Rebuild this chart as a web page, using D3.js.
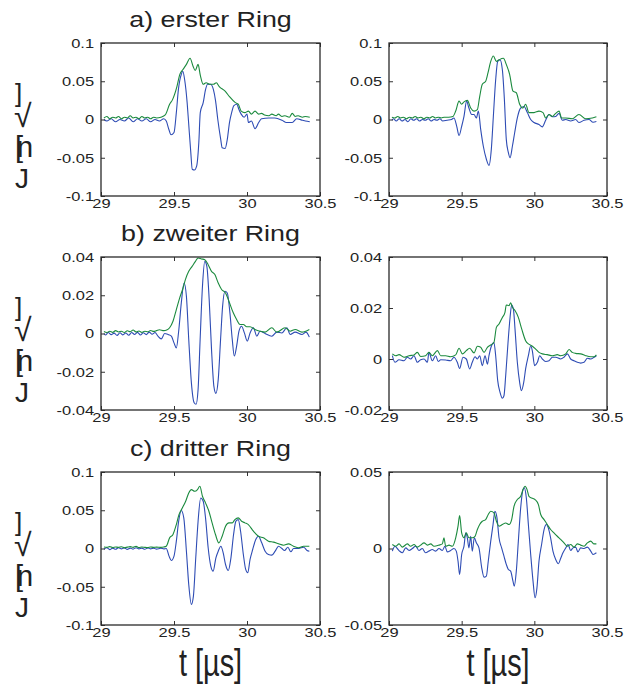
<!DOCTYPE html>
<html>
<head>
<meta charset="utf-8">
<script src="https://cdn.jsdelivr.net/npm/d3@7"></script>
<style>
  body { margin: 0; background: #fff; }
  svg { display: block; }
  text { font-family: "Liberation Sans", Arial, Helvetica, sans-serif; fill: #222; }
</style>
</head>
<body>
<svg id="chart" width="634" height="684"></svg>
<script>
// values, t in microseconds
var xTicks = [29, 29.5, 30, 30.5];
var yTicksA = [-0.1, -0.05, 0, 0.05, 0.1];
var yTicksB = [-0.04, -0.02, 0, 0.02, 0.04];
var yTicksC = [-0.02, 0, 0.02, 0.04];
var yTicksD = [-0.05, 0, 0.05];
var titles = ["a) erster Ring", "b) zweiter Ring", "c) dritter Ring"];
var xLabel = "t [\u00b5s]";
var yLabelGlyphs = ["]", "\u221a", "[n", "J"];

// a) erster Ring, left
var p1Blue = [[29.02,0.0],[29.04,-0.002],[29.07,0.001],[29.1,-0.003],[29.13,0.0],[29.16,-0.002],[29.19,0.002],[29.22,-0.003],[29.25,0.001],[29.28,-0.002],[29.31,0.001],[29.34,-0.003],[29.37,0.0],[29.4,-0.002],[29.43,0.001],[29.447,-0.002],[29.465,-0.013],[29.48,-0.02],[29.5,-0.017],[29.516,0.009],[29.53,0.039],[29.55,0.059],[29.56,0.063],[29.573,0.052],[29.59,0.022],[29.6,-0.004],[29.615,-0.043],[29.625,-0.065],[29.64,-0.066],[29.655,-0.061],[29.67,-0.03],[29.68,0.009],[29.7,0.022],[29.716,0.039],[29.73,0.046],[29.75,0.046],[29.77,0.039],[29.785,0.024],[29.8,0.0],[29.82,-0.026],[29.83,-0.037],[29.85,-0.038],[29.865,-0.026],[29.88,-0.004],[29.895,0.009],[29.91,0.018],[29.93,0.02],[29.945,0.013],[29.96,0.007],[29.98,0.003],[30.0,0.007],[30.01,-0.004],[30.03,-0.002],[30.055,-0.012],[30.08,-0.004],[30.1,0.001],[30.15,0.002],[30.19,0.002],[30.24,-0.001],[30.27,-0.004],[30.31,-0.004],[30.34,0.001],[30.38,-0.001],[30.4,-0.002],[30.43,-0.003]];
var p1Green = [[29.02,0.002],[29.04,0.004],[29.06,0.001],[29.08,0.003],[29.1,0.002],[29.12,0.004],[29.14,0.001],[29.16,0.003],[29.18,0.002],[29.2,0.005],[29.22,0.002],[29.24,0.003],[29.26,0.001],[29.28,0.004],[29.3,0.002],[29.32,0.003],[29.34,0.001],[29.36,0.003],[29.38,0.002],[29.41,0.003],[29.44,0.006],[29.47,0.02],[29.49,0.026],[29.52,0.043],[29.54,0.059],[29.56,0.065],[29.585,0.072],[29.61,0.08],[29.63,0.07],[29.645,0.064],[29.665,0.072],[29.68,0.058],[29.7,0.046],[29.72,0.048],[29.745,0.046],[29.77,0.046],[29.79,0.048],[29.81,0.043],[29.85,0.037],[29.88,0.03],[29.92,0.022],[29.94,0.02],[29.96,0.011],[29.985,0.009],[30.01,0.011],[30.03,0.007],[30.055,0.011],[30.08,0.007],[30.1,0.008],[30.12,0.006],[30.15,0.005],[30.17,0.007],[30.2,0.005],[30.215,0.007],[30.24,0.004],[30.26,0.005],[30.29,0.003],[30.31,0.008],[30.33,0.004],[30.35,0.005],[30.38,0.003],[30.4,0.004],[30.43,0.003]];

// a) erster Ring, right
var p2Blue = [[29.02,-0.001],[29.03,0.001],[29.05,-0.002],[29.07,0.001],[29.09,-0.002],[29.11,0.0],[29.13,-0.003],[29.15,0.001],[29.17,-0.001],[29.19,0.001],[29.21,-0.002],[29.23,0.0],[29.25,-0.001],[29.27,0.001],[29.29,-0.002],[29.31,0.0],[29.33,-0.001],[29.35,0.001],[29.37,-0.002],[29.4,-0.001],[29.43,0.0],[29.447,0.002],[29.466,-0.009],[29.482,-0.021],[29.5,-0.009],[29.516,0.004],[29.534,0.024],[29.55,0.015],[29.569,0.0065],[29.585,0.0065],[29.601,0.002],[29.615,0.011],[29.631,-0.013],[29.649,-0.035],[29.67,-0.052],[29.688,-0.06],[29.704,-0.039],[29.718,0.004],[29.734,0.052],[29.748,0.076],[29.764,0.078],[29.78,0.065],[29.794,0.026],[29.807,-0.026],[29.821,-0.043],[29.833,-0.05],[29.849,-0.035],[29.865,-0.017],[29.883,0.002],[29.906,0.015],[29.929,0.017],[29.952,0.009],[29.975,0.0],[29.998,-0.004],[30.032,-0.0065],[30.055,-0.0096],[30.078,-0.001],[30.101,0.0065],[30.124,0.0035],[30.147,0.004],[30.17,0.008],[30.193,-0.001],[30.216,0.0],[30.25,-0.002],[30.284,0.0],[30.307,-0.004],[30.342,-0.001],[30.376,0.0],[30.404,-0.0035],[30.427,-0.0026]];
var p2Green = [[29.02,0.003],[29.04,0.002],[29.06,0.004],[29.08,0.002],[29.1,0.003],[29.12,0.001],[29.14,0.003],[29.16,0.002],[29.18,0.004],[29.2,0.002],[29.22,0.003],[29.24,0.001],[29.26,0.003],[29.28,0.002],[29.3,0.004],[29.32,0.002],[29.34,0.003],[29.36,0.002],[29.38,0.003],[29.41,0.003],[29.44,0.004],[29.459,0.011],[29.482,0.024],[29.5,0.02],[29.516,0.023],[29.539,0.025],[29.562,0.015],[29.585,0.011],[29.608,0.013],[29.624,0.03],[29.642,0.046],[29.665,0.05],[29.681,0.061],[29.7,0.076],[29.718,0.083],[29.739,0.076],[29.757,0.078],[29.787,0.08],[29.807,0.072],[29.83,0.059],[29.853,0.037],[29.876,0.035],[29.899,0.02],[29.922,0.015],[29.94,0.02],[29.963,0.009],[29.998,0.009],[30.032,0.011],[30.06,0.009],[30.078,0.002],[30.101,0.0065],[30.124,0.004],[30.147,0.008],[30.17,0.011],[30.188,0.002],[30.216,0.002],[30.261,0.001],[30.307,0.0065],[30.353,0.001],[30.399,0.002],[30.427,0.0035]];

// b) zweiter Ring, left
var p3Blue = [[29.02,0.0],[29.03,-0.0008],[29.05,0.0005],[29.07,-0.0006],[29.09,0.0002],[29.11,-0.001],[29.13,0.0004],[29.15,-0.0007],[29.17,0.0003],[29.19,-0.0009],[29.21,0.0005],[29.23,-0.0005],[29.25,0.0006],[29.27,-0.0008],[29.29,0.0004],[29.31,-0.0006],[29.33,0.0007],[29.35,-0.0004],[29.37,0.0005],[29.39,-0.0014],[29.413,-0.0028],[29.436,0.0],[29.459,-0.0005],[29.482,-0.0014],[29.5,-0.0049],[29.516,-0.0075],[29.532,0.0012],[29.55,0.016],[29.569,0.0264],[29.585,0.0195],[29.601,-0.0031],[29.619,-0.0257],[29.638,-0.0362],[29.651,-0.037],[29.665,-0.0292],[29.679,-0.0031],[29.695,0.0247],[29.711,0.0377],[29.725,0.0351],[29.741,0.0177],[29.757,-0.0083],[29.773,-0.0275],[29.787,-0.0313],[29.803,-0.024],[29.819,-0.0031],[29.833,0.0143],[29.849,0.0221],[29.865,0.0212],[29.883,0.0108],[29.899,-0.0031],[29.913,-0.0118],[29.929,-0.0066],[29.945,0.0012],[29.963,0.0038],[29.982,0.0003],[30.002,-0.004],[30.021,0.0003],[30.044,0.003],[30.067,-0.0014],[30.089,0.0012],[30.124,0.0],[30.17,-0.0014],[30.204,0.0007],[30.239,0.0003],[30.273,0.003],[30.296,-0.0005],[30.33,0.0007],[30.376,-0.0005],[30.404,0.0007],[30.427,-0.0019]];
var p3Green = [[29.02,0.001],[29.04,0.0005],[29.06,0.0012],[29.08,0.0006],[29.1,0.0015],[29.12,0.0008],[29.14,0.0012],[29.16,0.0005],[29.18,0.0014],[29.2,0.0009],[29.22,0.0018],[29.24,0.0008],[29.26,0.0013],[29.28,0.0006],[29.3,0.0012],[29.32,0.0009],[29.34,0.0016],[29.36,0.0011],[29.38,0.0015],[29.4,0.002],[29.43,0.0015],[29.45,0.0018],[29.47,0.003],[29.493,0.0064],[29.516,0.0125],[29.539,0.0186],[29.562,0.0238],[29.578,0.0282],[29.601,0.0325],[29.624,0.0351],[29.647,0.0377],[29.665,0.0395],[29.688,0.039],[29.711,0.0386],[29.734,0.036],[29.757,0.0325],[29.78,0.0308],[29.803,0.0264],[29.826,0.023],[29.853,0.0212],[29.876,0.0169],[29.906,0.0108],[29.929,0.0073],[29.952,0.0047],[29.975,0.0047],[29.998,0.0035],[30.021,0.0035],[30.055,0.0021],[30.089,0.0012],[30.124,0.0007],[30.17,0.003],[30.204,0.0007],[30.261,0.003],[30.296,0.0012],[30.33,0.0021],[30.376,0.0007],[30.427,0.0021]];

// b) zweiter Ring, right
var p4Blue = [[29.023,0.0013],[29.041,-0.0013],[29.069,-0.0003],[29.103,-0.0007],[29.126,0.0007],[29.149,0.0],[29.172,0.0013],[29.195,-0.0013],[29.218,-0.0003],[29.241,0.0],[29.264,-0.0013],[29.275,0.0026],[29.298,-0.0007],[29.321,0.0013],[29.339,-0.001],[29.356,-0.0003],[29.39,-0.0004],[29.424,-0.0007],[29.447,0.0007],[29.47,-0.0013],[29.486,-0.0037],[29.509,0.0007],[29.532,0.0],[29.555,-0.0039],[29.573,-0.0013],[29.592,0.0009],[29.608,0.0],[29.624,0.0013],[29.642,-0.0026],[29.661,0.0013],[29.677,-0.002],[29.688,0.0013],[29.704,0.005],[29.722,0.0065],[29.734,0.0013],[29.748,-0.0085],[29.764,-0.0131],[29.78,-0.0154],[29.791,-0.0144],[29.803,-0.0065],[29.819,0.0065],[29.833,0.0163],[29.844,0.0212],[29.856,0.0196],[29.867,0.0118],[29.883,-0.0013],[29.899,-0.0092],[29.911,-0.0124],[29.927,-0.0092],[29.94,-0.0039],[29.959,0.0013],[29.975,0.0052],[29.986,0.0033],[30.002,-0.0026],[30.021,-0.0013],[30.037,0.0013],[30.055,0.0],[30.078,-0.001],[30.101,-0.0007],[30.124,0.0007],[30.147,0.0007],[30.181,0.0],[30.204,0.0007],[30.227,0.002],[30.25,0.0],[30.273,-0.0007],[30.296,-0.0013],[30.319,-0.0016],[30.342,-0.0013],[30.365,0.0003],[30.388,0.0],[30.411,0.0007],[30.427,0.0013]];
var p4Green = [[29.023,0.002],[29.046,0.0013],[29.069,0.0017],[29.103,0.0007],[29.138,0.0013],[29.172,0.0016],[29.195,0.0026],[29.218,0.001],[29.252,0.0013],[29.275,0.0026],[29.298,0.0013],[29.333,0.0033],[29.356,0.0013],[29.39,0.0013],[29.424,0.0009],[29.459,0.0016],[29.482,0.0042],[29.505,0.002],[29.532,0.0033],[29.555,0.0042],[29.585,0.0024],[29.608,0.005],[29.631,0.0046],[29.654,0.0026],[29.677,0.0046],[29.7,0.0055],[29.722,0.0065],[29.739,0.0124],[29.757,0.0137],[29.78,0.0163],[29.798,0.0183],[29.807,0.0212],[29.826,0.0209],[29.837,0.022],[29.849,0.0203],[29.867,0.019],[29.89,0.0163],[29.913,0.0118],[29.94,0.0072],[29.959,0.0059],[29.982,0.0052],[30.009,0.0039],[30.032,0.0026],[30.055,0.002],[30.089,0.0017],[30.124,0.0013],[30.158,0.0017],[30.181,0.0013],[30.216,0.002],[30.239,0.0037],[30.261,0.0026],[30.284,0.0022],[30.319,0.002],[30.353,0.0013],[30.388,0.0009],[30.411,0.0009],[30.427,0.0016]];

// c) dritter Ring, left
var p5Blue = [[29.02,-0.001],[29.04,0.001],[29.06,-0.0015],[29.08,0.0005],[29.1,-0.001],[29.12,0.001],[29.14,-0.0005],[29.16,0.0008],[29.18,-0.0012],[29.2,0.0005],[29.22,-0.0008],[29.24,0.001],[29.26,-0.0005],[29.28,0.0005],[29.3,-0.001],[29.32,0.0008],[29.34,-0.0005],[29.36,0.0005],[29.38,-0.0008],[29.41,0.0003],[29.43,-0.0005],[29.447,0.0],[29.466,-0.01],[29.482,-0.0157],[29.5,-0.01],[29.516,0.0096],[29.532,0.0357],[29.55,0.0496],[29.567,0.04],[29.585,-0.0035],[29.601,-0.047],[29.619,-0.073],[29.633,-0.0622],[29.649,-0.0122],[29.665,0.0357],[29.683,0.0661],[29.7,0.0617],[29.716,0.04],[29.734,0.0009],[29.752,-0.023],[29.768,-0.0296],[29.787,-0.0122],[29.803,-0.0035],[29.821,0.003],[29.837,-0.0057],[29.853,-0.0209],[29.872,-0.0287],[29.89,-0.0122],[29.908,0.0183],[29.924,0.0357],[29.94,0.0378],[29.956,0.0226],[29.975,-0.0078],[29.991,-0.0274],[30.005,-0.0317],[30.021,-0.0143],[30.039,-0.0013],[30.06,0.0117],[30.078,0.0161],[30.101,0.0074],[30.124,-0.0035],[30.147,-0.0078],[30.17,-0.0087],[30.193,-0.0035],[30.216,0.003],[30.239,0.0],[30.257,-0.0026],[30.28,0.0017],[30.3,-0.0043],[30.319,0.0],[30.353,0.0],[30.388,0.0017],[30.411,-0.0026],[30.427,-0.0035]];
var p5Green = [[29.02,0.002],[29.04,0.0015],[29.06,0.0025],[29.08,0.0012],[29.1,0.002],[29.12,0.0015],[29.14,0.0022],[29.16,0.001],[29.18,0.0018],[29.2,0.0025],[29.22,0.0015],[29.24,0.0028],[29.26,0.0012],[29.28,0.002],[29.3,0.0015],[29.32,0.0012],[29.34,0.002],[29.36,0.0015],[29.38,0.0018],[29.41,0.0015],[29.43,0.002],[29.447,0.003],[29.47,0.0139],[29.493,0.0183],[29.516,0.0313],[29.534,0.0443],[29.557,0.053],[29.58,0.0617],[29.601,0.0726],[29.619,0.077],[29.642,0.0748],[29.661,0.077],[29.677,0.0813],[29.695,0.0683],[29.716,0.0596],[29.739,0.0487],[29.761,0.0335],[29.784,0.0183],[29.807,0.0074],[29.83,0.0161],[29.853,0.0291],[29.876,0.0335],[29.899,0.0335],[29.917,0.0378],[29.94,0.04],[29.963,0.0357],[29.986,0.0335],[30.009,0.0313],[30.044,0.0226],[30.078,0.0161],[30.112,0.0139],[30.147,0.0096],[30.181,0.0083],[30.216,0.0061],[30.25,0.0043],[30.284,0.0061],[30.319,0.003],[30.353,0.0009],[30.388,0.003],[30.427,0.003]];

// c) dritter Ring, right
var p6Blue = [[29.023,-0.0017],[29.041,0.0015],[29.057,0.0],[29.073,-0.0017],[29.092,-0.0028],[29.115,0.0004],[29.138,-0.0013],[29.161,0.0],[29.183,0.0015],[29.206,-0.0013],[29.229,0.0],[29.252,-0.0028],[29.275,-0.0017],[29.298,-0.0007],[29.321,-0.0017],[29.344,0.0],[29.367,-0.0013],[29.385,0.0015],[29.401,-0.0022],[29.424,-0.0013],[29.447,0.0],[29.463,-0.0017],[29.475,-0.0083],[29.486,-0.017],[29.5,-0.0039],[29.516,0.0015],[29.528,0.0102],[29.539,0.007],[29.55,0.0004],[29.562,0.008],[29.573,-0.0017],[29.587,0.007],[29.601,0.0037],[29.619,0.0004],[29.638,-0.0126],[29.654,-0.0187],[29.67,-0.018],[29.683,-0.0083],[29.7,0.0048],[29.716,0.0157],[29.729,0.0243],[29.743,0.02],[29.757,0.007],[29.775,0.0004],[29.791,-0.005],[29.807,-0.0104],[29.821,-0.0137],[29.837,-0.0148],[29.853,-0.0213],[29.862,-0.0246],[29.876,-0.0148],[29.89,0.0048],[29.906,0.0265],[29.922,0.0385],[29.931,0.0396],[29.945,0.033],[29.959,0.0157],[29.975,-0.0039],[29.991,-0.0213],[30.005,-0.0322],[30.018,-0.0257],[30.032,-0.0083],[30.05,0.0026],[30.067,0.0124],[30.083,0.0157],[30.096,0.0135],[30.112,0.007],[30.128,-0.0017],[30.147,-0.0072],[30.165,-0.01],[30.181,-0.0065],[30.197,-0.0028],[30.216,0.0004],[30.232,0.0026],[30.25,-0.0013],[30.266,0.0004],[30.284,0.0009],[30.3,-0.0022],[30.319,0.0004],[30.342,0.0],[30.365,0.0009],[30.388,-0.0017],[30.404,-0.0039],[30.427,-0.0028]];
var p6Green = [[29.023,0.0026],[29.046,0.0015],[29.069,0.003],[29.092,0.0009],[29.126,0.003],[29.149,0.0015],[29.172,0.0026],[29.195,0.0009],[29.218,0.0022],[29.241,0.0037],[29.264,0.0022],[29.287,0.003],[29.31,0.0015],[29.344,0.0022],[29.367,0.003],[29.378,0.007],[29.39,0.0015],[29.413,0.0022],[29.436,0.0015],[29.459,0.007],[29.475,0.0146],[29.486,0.0215],[29.5,0.0102],[29.516,0.007],[29.532,0.0102],[29.55,0.007],[29.573,0.007],[29.592,0.008],[29.608,0.0124],[29.624,0.0157],[29.642,0.0178],[29.665,0.0189],[29.683,0.0222],[29.7,0.0243],[29.722,0.0233],[29.739,0.0178],[29.757,0.0146],[29.78,0.0157],[29.803,0.0167],[29.826,0.0157],[29.844,0.0189],[29.86,0.0276],[29.883,0.032],[29.906,0.0341],[29.922,0.0385],[29.936,0.0407],[29.95,0.0385],[29.963,0.0341],[29.982,0.033],[30.005,0.032],[30.028,0.0287],[30.044,0.0222],[30.067,0.0189],[30.089,0.0157],[30.112,0.0124],[30.135,0.0102],[30.158,0.008],[30.181,0.0059],[30.204,0.0037],[30.227,0.0015],[30.25,0.0026],[30.273,0.0009],[30.296,0.003],[30.319,0.0022],[30.342,0.0015],[30.365,0.0037],[30.388,0.0048],[30.411,0.003],[30.427,0.003]];

var blueColor = "#2e4cb4";
var greenColor = "#1b8a3e";

var svg = d3.select("#chart");
svg.append("rect").attr("width", 634).attr("height", 684).attr("fill", "#fff");

var cols = [{x0: 101, x1: 320}, {x0: 389, x1: 607}];
var rows = [{y0: 43, y1: 196}, {y0: 257, y1: 410}, {y0: 472, y1: 625}];

var panels = [
    {col: 0, row: 0, domain: [-0.1, 0.1], ticks: yTicksA, blue: p1Blue, green: p1Green},
    {col: 1, row: 0, domain: [-0.1, 0.1], ticks: yTicksA, blue: p2Blue, green: p2Green},
    {col: 0, row: 1, domain: [-0.04, 0.04], ticks: yTicksB, blue: p3Blue, green: p3Green},
    {col: 1, row: 1, domain: [-0.02, 0.04], ticks: yTicksC, blue: p4Blue, green: p4Green},
    {col: 0, row: 2, domain: [-0.1, 0.1], ticks: yTicksA, blue: p5Blue, green: p5Green},
    {col: 1, row: 2, domain: [-0.05, 0.05], ticks: yTicksD, blue: p6Blue, green: p6Green}
];

var tickFmt = function(d) { return String(d); };
var textStretch = "scale(1.22,1)";

panels.forEach(function(p) {
    var c = cols[p.col], r = rows[p.row];
    var x = d3.scaleLinear().domain([29, 30.5]).range([c.x0, c.x1]);
    var y = d3.scaleLinear().domain(p.domain).range([r.y1, r.y0]);
    var g = svg.append("g");

    var line = d3.line()
        .x(function(d) { return x(d[0]); })
        .y(function(d) { return y(d[1]); })
        .curve(d3.curveMonotoneX);

    var clipId = "clip" + p.col + p.row;
    g.append("clipPath").attr("id", clipId)
        .append("rect").attr("x", c.x0).attr("y", r.y0)
        .attr("width", c.x1 - c.x0).attr("height", r.y1 - r.y0);

    g.append("path").datum(p.blue)
        .attr("d", line).attr("clip-path", "url(#" + clipId + ")")
        .style("fill", "none").style("stroke", blueColor).style("stroke-width", 1.1);
    g.append("path").datum(p.green)
        .attr("d", line).attr("clip-path", "url(#" + clipId + ")")
        .style("fill", "none").style("stroke", greenColor).style("stroke-width", 1.1);

    // axes with inward ticks on all four sides
    var bottom = g.append("g").attr("transform", "translate(0," + r.y1 + ")")
        .call(d3.axisBottom(x).tickValues(xTicks).tickFormat(tickFmt).tickSize(-4).tickPadding(2.5));
    var top = g.append("g").attr("transform", "translate(0," + r.y0 + ")")
        .call(d3.axisTop(x).tickValues(xTicks).tickFormat("").tickSize(-4));
    var left = g.append("g").attr("transform", "translate(" + c.x0 + ",0)")
        .call(d3.axisLeft(y).tickValues(p.ticks).tickFormat(tickFmt).tickSize(-4).tickPadding(5.7));
    var right = g.append("g").attr("transform", "translate(" + c.x1 + ",0)")
        .call(d3.axisRight(y).tickValues(p.ticks).tickFormat("").tickSize(-4));

    [bottom, top, left, right].forEach(function(a) {
        a.select(".domain").remove();
        a.selectAll("line").style("stroke", "#333").style("stroke-width", 1);
        a.selectAll("text").style("font-size", "13.5px").style("fill", "#222")
            .attr("transform", textStretch);
    });

    g.append("rect").attr("x", c.x0).attr("y", r.y0)
        .attr("width", c.x1 - c.x0).attr("height", r.y1 - r.y0)
        .style("fill", "none").style("stroke", "#2a2a2a").style("stroke-width", 1.3);
});

// row titles over the left column
titles.forEach(function(t, i) {
    var cx = (cols[0].x0 + cols[0].x1) / 2;
    svg.append("text")
        .attr("transform", "translate(" + cx + "," + (rows[i].y0 - 16) + ") scale(1.22,1)")
        .attr("text-anchor", "middle")
        .style("font-size", "22px")
        .text(t);
});

// broken y label glyphs stacked at the left of each row
var glyphPos = [
    {dx: 15, dy: 59, size: 26, ls: 0},
    {dx: 14, dy: 84, size: 32, ls: 0},
    {dx: 15, dy: 114, size: 29, ls: -6},
    {dx: 15, dy: 145, size: 28, ls: 0}
];
rows.forEach(function(r) {
    yLabelGlyphs.forEach(function(ch, k) {
        svg.append("text")
            .attr("x", glyphPos[k].dx)
            .attr("y", r.y0 + glyphPos[k].dy)
            .style("font-size", glyphPos[k].size + "px")
            .style("letter-spacing", glyphPos[k].ls + "px")
            .text(ch);
    });
});

// x labels under the bottom row
cols.forEach(function(c) {
    svg.append("text")
        .attr("transform", "translate(" + ((c.x0 + c.x1) / 2) + ",676) scale(0.76,1)")
        .attr("text-anchor", "middle")
        .style("font-size", "38px")
        .text(xLabel);
});
</script>
</body>
</html>
